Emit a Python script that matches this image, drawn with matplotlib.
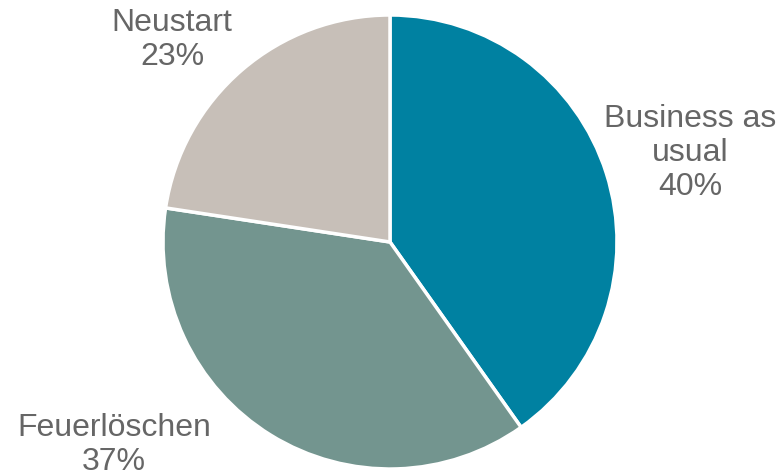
import matplotlib
matplotlib.use("Agg")
import matplotlib.pyplot as plt

categories = ["Business as usual", "Feuerlöschen", "Neustart"]
values = [40.2, 37.2, 22.6]
label_texts = ["Business as\nusual\n40%", "Feuerlöschen\n37%", "Neustart\n23%"]
colors = ["#0081A1", "#73958F", "#C7BFB8"]

plt.rcParams['font.family'] = ['Liberation Sans', 'DejaVu Sans']

W, H = 781, 476
fig = plt.figure(figsize=(W / 100, H / 100), dpi=100)
ax = fig.add_axes([0, 0, 1, 1])
cx, cy, r = 390, H - 242, 227
ax.pie(values, colors=colors, startangle=90, counterclock=False,
       center=(cx, cy), radius=r,
       wedgeprops=dict(edgecolor="white", linewidth=2.5))
ax.set_xlim(0, W)
ax.set_ylim(0, H)
ax.set_aspect('auto')
ax.axis('off')

label_pos = [(690, H - 153), (114, H - 445), (172, H - 40)]
for (x, y), t in zip(label_pos, label_texts):
    ax.text(x, y, t, ha='center', va='center', fontsize=23, color='#666666',
            linespacing=1.17)

fig.savefig("out.png", dpi=100)
